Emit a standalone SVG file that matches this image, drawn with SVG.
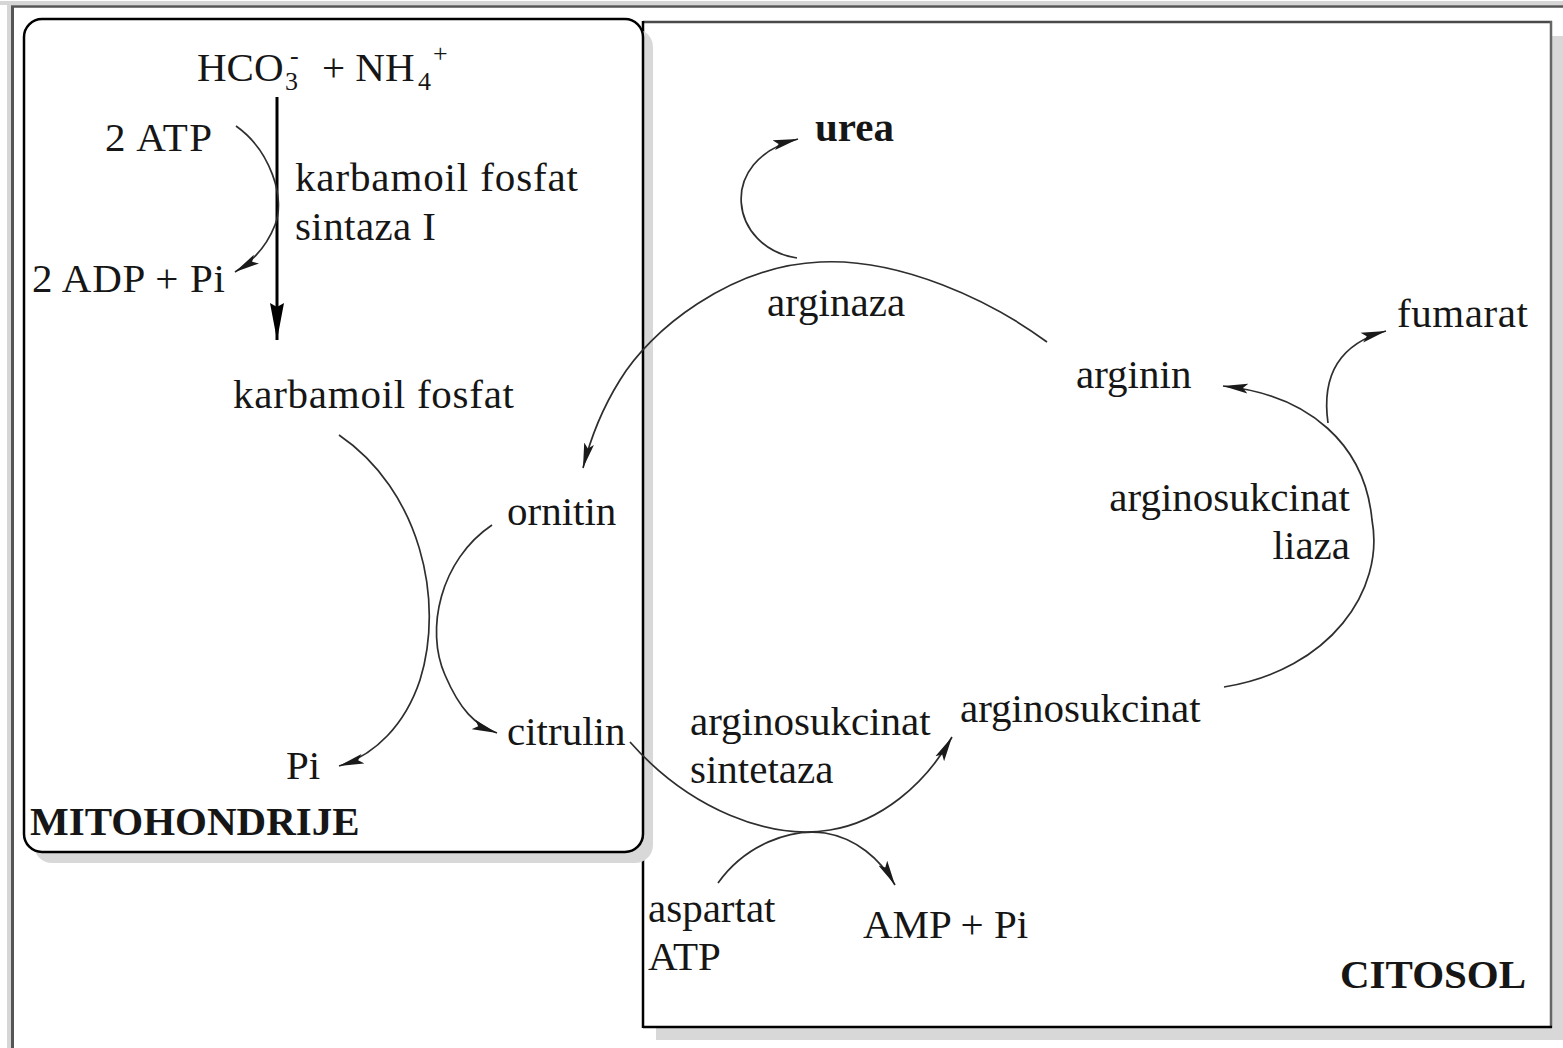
<svg xmlns="http://www.w3.org/2000/svg" width="1563" height="1048" viewBox="0 0 1563 1048">
  <defs>
    <style>
      text { font-family: "Liberation Serif", "Times New Roman", serif; font-size: 41px; fill: #161616; }
      .bold { font-weight: bold; }
      .sm { font-size: 26px; }
      .flow { fill: none; stroke: #2e2e2e; stroke-width: 1.7; marker-end: url(#head); }
    </style>
    <marker id="head" markerUnits="userSpaceOnUse" markerWidth="26" markerHeight="12" refX="25" refY="6" orient="auto">
      <path d="M0,1 L25,6 L0,11 L5,6 z" fill="#1a1a1a"/>
    </marker>
    <marker id="bighead" markerUnits="userSpaceOnUse" markerWidth="38" markerHeight="16" refX="37" refY="8" orient="auto">
      <path d="M0,1 L37,8 L0,15 L4,8 z" fill="#000"/>
    </marker>
  </defs>

  <rect width="1563" height="1048" fill="#fff"/>

  <!-- outer page frame -->
  <g id="frame">
    <rect x="0" y="1" width="1563" height="4" fill="#d6d6d6"/>
    <rect x="7" y="5" width="4" height="1043" fill="#d6d6d6"/>
    <line x1="11" y1="6.5" x2="1563" y2="6.5" stroke="#555" stroke-width="2.5"/>
    <line x1="12.5" y1="6" x2="12.5" y2="1048" stroke="#555" stroke-width="3"/>
  </g>

  <!-- cytosol compartment -->
  <g id="citosol">
    <rect x="656" y="36" width="910" height="1004" fill="#d8d8d8"/>
    <rect x="643" y="22" width="908" height="1005" fill="#fff"/>
    <line x1="643" y1="22" x2="1552" y2="22" stroke="#4a4a4a" stroke-width="2.5"/>
    <line x1="1551" y1="21" x2="1551" y2="1028" stroke="#666" stroke-width="2.5"/>
    <line x1="643" y1="1027" x2="1552" y2="1027" stroke="#000" stroke-width="2.5"/>
    <line x1="643" y1="21" x2="643" y2="1028" stroke="#000" stroke-width="2.5"/>
    <text class="bold" x="1340" y="988">CITOSOL</text>
  </g>

  <!-- mitochondrion compartment -->
  <g id="mitohondrije">
    <rect x="34" y="29" width="619" height="834" rx="18" fill="#d8d8d8"/>
    <rect x="24" y="19" width="619" height="833" rx="18" fill="#fff" stroke="#000" stroke-width="2.5"/>
    <text class="bold" x="30" y="835">MITOHONDRIJE</text>
  </g>

  <!-- reaction arrows -->
  <g id="connectors">
    <line x1="277" y1="97" x2="277" y2="340" stroke="#000" stroke-width="3" marker-end="url(#bighead)"/>
    <path class="flow" d="M236,126 C270,150 286,198 275,225 C268,243 255,260 235,272"/>
    <path class="flow" d="M339,435 C420,490 445,600 420,680 C405,725 375,755 339,766"/>
    <path class="flow" d="M492,525 C440,560 425,630 445,675 C460,710 475,725 497,733"/>
    <path class="flow" d="M1047,342 C990,300 900,258 820,262 C730,266 650,330 620,380 C600,412 590,440 583,468"/>
    <path class="flow" d="M797,258 C730,248 715,160 798,139"/>
    <path class="flow" d="M630,742 C690,810 770,840 830,830 C880,822 925,785 952,737"/>
    <path class="flow" d="M718,883 C745,845 790,828 825,833 C855,838 880,858 895,885"/>
    <path class="flow" d="M1224,687 C1330,670 1385,590 1372,520 C1365,445 1310,395 1223,386"/>
    <path class="flow" d="M1328,423 C1322,380 1335,345 1386,331"/>
  </g>

  <!-- metabolites and enzymes -->
  <g id="n-hco3-nh4">
    <text x="197" y="81">HCO</text>
    <text class="sm" x="285" y="90">3</text>
    <text class="sm" x="290" y="64">-</text>
    <text x="322" y="81">+ NH</text>
    <text class="sm" x="418" y="90">4</text>
    <text class="sm" x="433" y="62">+</text>
  </g>
  <g id="n-2atp"><text x="105" y="151" textLength="107">2 ATP</text></g>
  <g id="n-2adp"><text x="32" y="292" textLength="193">2 ADP + Pi</text></g>
  <g id="e-cps1">
    <text x="295" y="191" textLength="283">karbamoil fosfat</text>
    <text x="295" y="240" textLength="141">sintaza I</text>
  </g>
  <g id="n-karbamoil-fosfat"><text x="233" y="408" textLength="281">karbamoil fosfat</text></g>
  <g id="n-ornitin"><text x="507" y="525">ornitin</text></g>
  <g id="n-citrulin"><text x="507" y="745">citrulin</text></g>
  <g id="n-pi"><text x="286" y="779">Pi</text></g>
  <g id="n-urea"><text class="bold" x="815" y="141">urea</text></g>
  <g id="e-arginaza"><text x="767" y="316">arginaza</text></g>
  <g id="n-arginin"><text x="1076" y="388">arginin</text></g>
  <g id="n-fumarat"><text x="1397" y="327" textLength="131">fumarat</text></g>
  <g id="e-liaza">
    <text x="1350" y="511" text-anchor="end">arginosukcinat</text>
    <text x="1350" y="559" text-anchor="end">liaza</text>
  </g>
  <g id="n-arginosukcinat"><text x="960" y="722">arginosukcinat</text></g>
  <g id="e-sintetaza">
    <text x="690" y="735">arginosukcinat</text>
    <text x="690" y="783">sintetaza</text>
  </g>
  <g id="n-aspartat-atp">
    <text x="648" y="922">aspartat</text>
    <text x="648" y="970">ATP</text>
  </g>
  <g id="n-amp"><text x="863" y="938">AMP + Pi</text></g>
</svg>
